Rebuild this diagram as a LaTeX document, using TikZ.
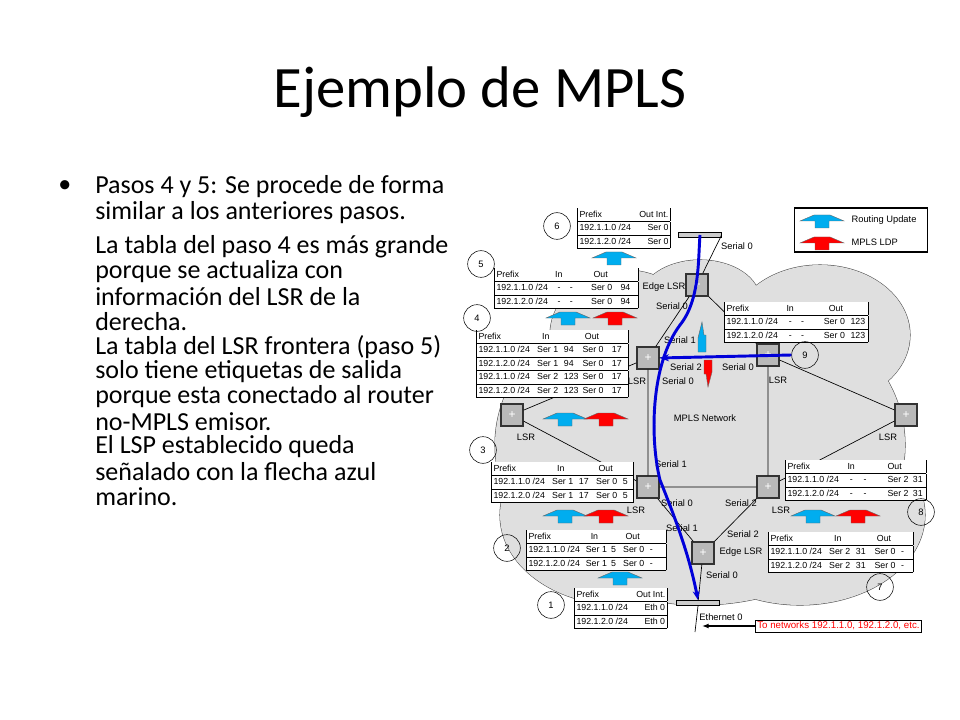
\documentclass[tikz,border=0pt]{standalone}
\usepackage{fontspec}
\setmainfont{Carlito}
\newfontfamily\arial{Liberation Sans}
\usetikzlibrary{arrows.meta}
\newcommand\tbf[5]{\arial\fontsize{6.6}{9.75}\selectfont\setlength\tabcolsep{0pt}\begin{tabular}{|@{\hspace{1.5pt}}p{#1pt}p{#2pt}p{#3pt}p{#4pt}p{#5pt}@{}|}}
\newcommand\tbt{\arial\fontsize{6.6}{9.75}\selectfont\setlength\tabcolsep{0pt}\begin{tabular}{|@{\hspace{1.5pt}}p{51pt}p{17pt}@{}|}}
\newcommand\hdt{\multicolumn{2}{|@{\hspace{1.5pt}}p{66.5pt}@{\hspace{1.5pt}}|}{Prefix\hfill Out Int.}}
\newcommand\etb{\end{tabular}}
\newcommand\uparr[3]{\begin{scope}[shift={(#1,#2)}]\filldraw[fill=#3,draw=black!60,line width=.3pt] (-7,8)--(7,8)--(7,1)--(22,1)--(8,-5)--(-8,-5)--(-22,1)--(-7,1)--cycle;\end{scope}}
\begin{document}
\begin{tikzpicture}[x=0.75pt,y=-0.75pt,
  tbl/.style={anchor=north west,inner sep=0pt,fill=white},
  rt/.style={draw=black!80,fill=gray!55,minimum size=16.5pt,inner sep=0pt,line width=1pt,font=\arial\fontsize{9}{9}\selectfont\color{white}},
  lab/.style={font=\arial\fontsize{7}{8}\selectfont,inner sep=1pt},
  circ/.style={draw,circle,minimum size=20pt,inner sep=0pt,font=\arial\fontsize{7}{8}\selectfont},
  lk/.style={black,line width=.5pt},
  lsp/.style={blue!85!black,line width=2.2pt},
  bul/.style={anchor=west,inner sep=0pt,font=\fontsize{19.5}{22}\selectfont}]
\useasboundingbox (0,0) rectangle (960,720);
% title
\node[font=\fontsize{44}{48}\selectfont] (title) at (480,92) {Ejemplo de MPLS};
\node[bul] (b0) at (58,187) {•};
\node[bul] (l1) at (95,187) {Pasos 4 y 5: Se procede de forma};
\node[bul] (l2) at (95,213) {similar a los anteriores pasos.};
\node[bul] (l3) at (95,247) {La tabla del paso 4 es más grande};
\node[bul] (l4) at (95,272) {porque se actualiza con};
\node[bul] (l5) at (95,297) {información del LSR de la};
\node[bul] (l6) at (95,322) {derecha.};
\node[bul] (l7) at (95,347) {La tabla del LSR frontera (paso 5)};
\node[bul] (l8) at (95,372) {solo tiene etiquetas de salida};
\node[bul] (l9) at (95,397) {porque esta conectado al router};
\node[bul] (l10) at (95,422) {no-MPLS emisor.};
\node[bul] (l11) at (95,447) {El LSP establecido queda};
\node[bul] (l12) at (95,472) {señalado con la flecha azul};
\node[bul] (l13) at (95,497) {marino.};
% cloud
\def\cloud{(700,445) ellipse (205 and 160) (625,335) ellipse (75 and 65) (820,335) ellipse (90 and 70) (620,515) ellipse (120 and 90) (800,515) ellipse (125 and 90) (700,300) ellipse (60 and 40)}
\draw[black!70,line width=.8pt] \cloud;
\fill[gray!25] \cloud;
% routers
\node[rt] (ea) at (697,285) {+};
\node[rt] (ll) at (648,358) {+};
\node[rt] (lr) at (768,355) {+};
\node[rt] (fl) at (512,415) {+};
\node[rt] (fr) at (906,415) {+};
\node[rt] (bl) at (648,487) {+};
\node[rt] (br) at (768,487) {+};
\node[rt] (eb) at (703,553) {+};
\node[draw,fill=gray!40,minimum width=32pt,minimum height=4pt,inner sep=0pt] (e6) at (700,235) {};
\node[draw,fill=gray!40,minimum width=32pt,minimum height=4pt,inner sep=0pt] (e1) at (698,603) {};
\coordinate (dn) at (695,632);
% links
\draw[lk] (ea)--(ll) (ea)--(lr) (ll)--(lr) (ll)--(bl) (lr)--(br) (bl)--(br) (bl)--(eb) (br)--(eb)
 (fl)--(ll) (fl)--(bl) (fr)--(lr) (fr)--(br) (ea)--(e6.east) (eb)--(e1) (e1.south)--(dn);
% arrows
\uparr{614}{257}{cyan}
\uparr{568}{317}{cyan}\uparr{615}{317}{red}
\uparr{565}{418}{cyan}\uparr{606}{418}{red}
\uparr{565}{515}{cyan}\uparr{606}{515}{red}
\uparr{620}{577}{cyan}
\uparr{813}{515}{cyan}\uparr{858}{515}{red}
\filldraw[fill=cyan,draw=black!60,line width=.3pt] (702,322)--(704,335)--(706,335)--(706,352)--(698,352)--(698,338)--cycle;
\filldraw[fill=red,draw=black!60,line width=.3pt] (708,387)--(706,374)--(704,374)--(704,360)--(712,360)--(712,372)--cycle;
% tables
\node[tbl] (t6) at (577,208) {\tbt \hdt\\\hline 192.1.1.0 /24 & Ser 0\\\hline 192.1.2.0 /24 & Ser 0\\\hline\etb};
\node[tbl] (t5) at (494,268) {\tbf{44}{11}{16}{22}{13}Prefix & In & & \ Out & \\\hline 192.1.1.0 /24 & \ - & - & Ser 0 & 94\\\hline 192.1.2.0 /24 & \ - & - & Ser 0 & 94\\\hline\etb};
\node[tbl] (t4) at (476,330) {\tbf{44}{20}{14}{22}{12}Prefix & \ \ In & & \ Out & \\\hline 192.1.1.0 /24 & Ser 1 & 94 & Ser 0 & 17\\\hline 192.1.2.0 /24 & Ser 1 & 94 & Ser 0 & 17\\\hline 192.1.1.0 /24 & Ser 2 & 123 & Ser 0 & 17\\\hline 192.1.2.0 /24 & Ser 2 & 123 & Ser 0 & 17\\\hline\etb};
\node[tbl] (t9) at (724,302) {\tbf{45}{11}{17}{20}{13}Prefix & In & & \ \ Out & \\\hline 192.1.1.0 /24 & \ - & - & Ser 0 & 123\\\hline 192.1.2.0 /24 & \ - & - & Ser 0 & 123\\\hline\etb};
\node[tbl] (t3) at (491,462) {\tbf{44}{20}{13}{20}{8}Prefix & \ \ In & & \ Out & \\\hline 192.1.1.0 /24 & Ser 1 & 17 & Ser 0 & 5\\\hline 192.1.2.0 /24 & Ser 1 & 17 & Ser 0 & 5\\\hline\etb};
\node[tbl] (t8) at (785,460) {\tbf{45}{12}{18}{19}{10}Prefix & In & & Out & \\\hline 192.1.1.0 /24 & \ - & - & Ser 2 & 31\\\hline 192.1.2.0 /24 & \ - & - & Ser 2 & 31\\\hline\etb};
\node[tbl] (t2) at (526,530) {\tbf{43}{19}{9}{20}{12}Prefix & \ \ In & & \ Out & \\\hline 192.1.1.0 /24 & Ser 1 & 5 & Ser 0 & -\\\hline 192.1.2.0 /24 & Ser 1 & 5 & Ser 0 & -\\\hline\etb};
\node[tbl] (t7) at (768,532) {\tbf{44}{20}{14}{20}{9}Prefix & \ \ In & & \ Out & \\\hline 192.1.1.0 /24 & Ser 2 & 31 & Ser 0 & -\\\hline 192.1.2.0 /24 & Ser 2 & 31 & Ser 0 & -\\\hline\etb};
\node[tbl] (t1) at (574,588) {\tbt \hdt\\\hline 192.1.1.0 /24 & Eth 0\\\hline 192.1.2.0 /24 & Eth 0\\\hline\etb};
% circles
\node[circ] (c6) at (557,226) {6};
\node[circ] (c5) at (481,264) {5};
\node[circ] (c4) at (477,318) {4};
\node[circ] (c9) at (805,355) {9};
\node[circ] (c3) at (483,450) {3};
\node[circ] (c8) at (921,512) {8};
\node[circ] (c2) at (507,548) {2};
\node[circ] (c7) at (880,587) {7};
\node[circ] (c1) at (551,605) {1};
% labels
\node[lab] at (737,246) {Serial 0};
\node[lab] at (664,287) {Edge LSR};
\node[lab] at (672,306) {Serial 0};
\node[lab] at (680,340) {Serial 1};
\node[lab] at (686,367) {Serial 2};
\node[lab] at (678,381) {Serial 0};
\node[lab] at (637,381) {LSR};
\node[lab] at (738,367) {Serial 0};
\node[lab] at (778,380) {LSR};
\node[lab] at (705,418) {MPLS Network};
\node[lab] at (526,437) {LSR};
\node[lab] at (888,437) {LSR};
\node[lab] at (671,464) {Serial 1};
\node[lab] at (677,503) {Serial 0};
\node[lab] at (636,510) {LSR};
\node[lab] at (741,503) {Serial 2};
\node[lab] at (781,510) {LSR};
\node[lab] at (682,528) {Serial 1};
\node[lab] at (743,534) {Serial 2};
\node[lab] at (741,552) {Edge LSR};
\node[lab] at (722,575) {Serial 0};
\node[lab] at (721,617) {Ethernet 0};
% legend
\node[draw,line width=.8pt,minimum width=100pt,minimum height=33pt] (leg) at (861,230) {};
\uparr{822}{220}{cyan}\uparr{822}{242}{red}
\node[lab,anchor=west] (lg1) at (850,220) {Routing Update};
\node[lab,anchor=west] (lg2) at (850,242) {MPLS LDP};
% red label
\node[draw,fill=white,font=\arial\fontsize{7.3}{8}\selectfont,text=red,inner sep=1.5pt,anchor=west] (rl) at (755,626) {To networks 192.1.1.0, 192.1.2.0, etc.};
\coordinate (rlt) at (702,626);
\draw[line width=1.2pt,-{Latex[length=5pt]}] (rl.west)--(rlt);
% LSP
\draw[lsp,-{Stealth[length=7pt]}] (e6.center) .. controls (698,260) and (700,300) .. (680,325) .. controls (650,365) and (650,440) .. (660,480) .. controls (680,530) and (690,560) .. (e1.north);
\draw[lsp,-{Stealth[length=7pt]}] (c9.west) -- (ll.east);
\end{tikzpicture}
\end{document}
